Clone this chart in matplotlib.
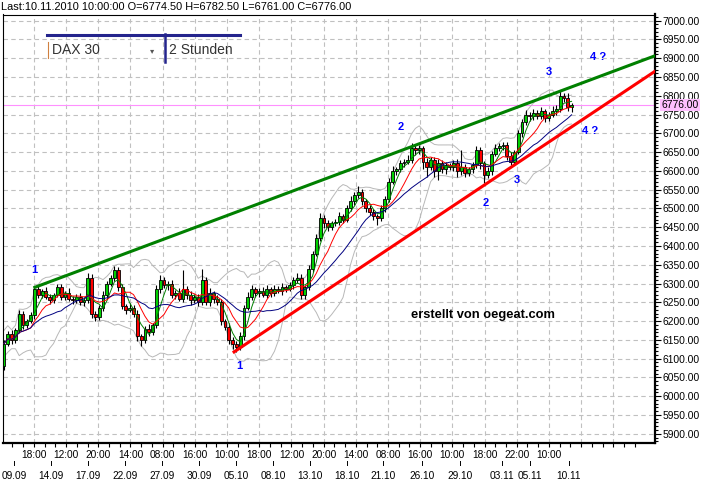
import numpy as np
import pandas as pd
import matplotlib
matplotlib.use("Agg")
import matplotlib.pyplot as plt
import matplotlib.transforms as mtransforms
from matplotlib.lines import Line2D
from matplotlib.ticker import FixedLocator, MultipleLocator, FuncFormatter

plt.rcParams['font.family'] = ['Liberation Sans', 'DejaVu Sans']

# ---- data (2h candles, DAX 30, 09.09.2010 - 10.11.2010) ----
first_open = 6080
closes = [
    6140, 6165, 6150, 6175, 6220, 6190, 6200, 6215, 6285, 6270,
    6280, 6265, 6255, 6270, 6290, 6265, 6275, 6260, 6255, 6265,
    6250, 6255, 6315, 6220, 6210, 6235, 6270, 6300, 6315, 6335,
    6290, 6240, 6230, 6235, 6220, 6160, 6150, 6180, 6170, 6190,
    6285, 6310, 6295, 6300, 6270, 6275, 6260, 6285, 6270, 6255,
    6265, 6250, 6310, 6250, 6275, 6260, 6250, 6200, 6185, 6150,
    6140, 6130, 6160, 6235, 6265, 6285, 6275, 6280, 6270, 6285,
    6275, 6285, 6280, 6290, 6285, 6295, 6310, 6315, 6270, 6290,
    6340, 6380, 6420, 6475, 6460, 6450, 6460, 6465, 6480, 6470,
    6500, 6520, 6535, 6545, 6520, 6500, 6490, 6480, 6475, 6500,
    6525, 6570, 6600, 6605, 6620, 6625, 6630, 6660, 6655, 6660,
    6625, 6610, 6630, 6600, 6620, 6605, 6615, 6610, 6620, 6600,
    6610, 6595, 6605, 6615, 6655, 6620, 6590, 6600, 6645, 6660,
    6665, 6670, 6640, 6625, 6650, 6700, 6730, 6750, 6745, 6755,
    6745, 6760, 6740, 6750, 6760, 6765, 6800, 6795, 6770, 6776,
]
wick_up = [
    10, 8, 12, 6, 10, 8, 6, 10, 8, 12,
    6, 10, 8, 6, 10, 8, 6, 12, 8, 6,
    10, 8, 12, 10, 6, 8, 10, 6, 8, 12,
    8, 10, 6, 12, 8, 10, 6, 8, 12, 6,
    10, 12, 8, 6, 10, 8, 12, 50, 8, 10,
    6, 8, 30, 8, 12, 6, 10, 8, 6, 10,
    8, 6, 10, 8, 12, 10, 6, 8, 12, 10,
    6, 10, 8, 12, 6, 10, 8, 12, 10, 6,
    10, 8, 12, 12, 8, 10, 6, 8, 10, 6,
    8, 12, 10, 15, 8, 6, 10, 8, 6, 10,
    8, 10, 12, 6, 10, 8, 12, 14, 10, 8,
    6, 10, 8, 6, 12, 8, 10, 6, 8, 12,
    45, 8, 6, 10, 12, 8, 6, 10, 8, 12,
    10, 6, 8, 10, 6, 10, 8, 12, 6, 10,
    8, 10, 6, 8, 12, 10, 15, 8, 12, 6,
]
wick_dn = [
    10, 6, 10, 8, 6, 10, 8, 6, 10, 8,
    8, 6, 10, 8, 6, 10, 8, 6, 10, 8,
    6, 10, 8, 12, 10, 6, 8, 10, 6, 8,
    10, 8, 12, 6, 10, 12, 15, 8, 10, 6,
    8, 10, 6, 12, 8, 10, 6, 8, 10, 12,
    8, 10, 6, 8, 10, 12, 6, 10, 8, 12,
    15, 12, 8, 10, 6, 8, 12, 10, 6, 8,
    10, 8, 6, 10, 8, 6, 10, 8, 12, 10,
    8, 10, 6, 8, 12, 10, 8, 6, 10, 8,
    6, 8, 10, 8, 12, 10, 8, 12, 20, 8,
    10, 8, 6, 12, 8, 10, 6, 8, 12, 10,
    20, 25, 8, 15, 25, 10, 12, 8, 10, 15,
    10, 12, 8, 10, 6, 15, 22, 8, 10, 6,
    8, 10, 12, 10, 8, 6, 10, 8, 12, 10,
    8, 6, 10, 8, 6, 10, 8, 12, 10, 12,
]

last_price = 6776.0
trend_green_x = [8.1, 171.0]
trend_green_y = [6290, 6907]
trend_red_x = [60.4, 171.0]
trend_red_y = [6118, 6866]

time_labels = ['10:00', '18:00', '12:00', '20:00', '14:00', '08:00', '16:00',
               '10:00', '18:00', '12:00', '20:00', '14:00', '08:00', '16:00',
               '10:00', '18:00', '22:00', '10:00', '', '']
date_labels = ['09.09', '14.09', '17.09', '22.09', '27.09', '30.09', '05.10',
               '08.10', '13.10', '18.10', '21.10', '26.10', '29.10', '03.11',
               '05.11', '10.11']
date_pos = [2.6, 12.3, 22.0, 31.8, 41.5, 51.2, 60.9, 70.6, 80.3, 90.0,
            99.5, 109.7, 119.7, 130.7, 138.1, 148.3]

# ---- build frame ----
df = pd.DataFrame({'close': closes, 'up': wick_up, 'dn': wick_dn})
df['open'] = [first_open] + closes[:-1]
df['high'] = df[['open', 'close']].max(axis=1) + df['up']
df['low'] = df[['open', 'close']].min(axis=1) - df['dn']
x = np.arange(len(df))

ma_fast = df['close'].rolling(4, min_periods=1).mean()
ma_mid = df['close'].rolling(8, min_periods=1).mean()
ma_slow = df['close'].rolling(16, min_periods=1).mean()
bb_mid = df['close'].rolling(12, min_periods=1).mean()
bb_std = df['close'].rolling(12, min_periods=2).std().bfill()
bb_hi = bb_mid + 2 * bb_std
bb_lo = bb_mid - 2 * bb_std

W, H = 702, 483
fig = plt.figure(figsize=(W / 100, H / 100), dpi=100)
ax = fig.add_axes([3 / W, 1 - 443 / H, 652 / W, (443 - 14.5) / H])

ax.set_xlim(-0.26, 170.9)
ax.set_ylim(5875.4, 7016.5)

# grid
grid_pos = [-0.6 + 8.45 * k for k in range(20)]
ax.xaxis.set_major_locator(FixedLocator(grid_pos))
ax.xaxis.set_minor_locator(FixedLocator([-0.6 + 8.45 * k / 3 for k in range(60)]))
ax.set_xticklabels(time_labels)
ax.yaxis.set_major_locator(MultipleLocator(50))
ax.yaxis.set_minor_locator(MultipleLocator(10))
ax.yaxis.set_major_formatter(FuncFormatter(lambda v, p: f'{v:.2f}'))
ax.grid(True, which='major', color='#c0c0c0', linestyle=(0, (4, 3)), linewidth=0.8)
ax.set_axisbelow(True)

# last price line
ax.axhline(last_price, color='#ff90ff', linewidth=0.8, zorder=1)

# bollinger and moving averages
ax.plot(x, bb_hi, color='#b8b8b8', linewidth=0.7, zorder=2)
ax.plot(x, bb_lo, color='#b8b8b8', linewidth=0.7, zorder=2)

# candles
up = df['close'] >= df['open']
ax.vlines(x, df['low'], df['high'], color='black', linewidth=0.8, zorder=3)
body = (df['close'] - df['open']).abs().clip(lower=2)
ax.bar(x, body, bottom=df[['open', 'close']].min(axis=1), width=0.75,
       color=np.where(up, '#00d000', '#ff0000'), edgecolor='black',
       linewidth=0.6, zorder=4)

ax.plot(x, ma_fast, color='#008000', linewidth=0.7, zorder=5)
ax.plot(x, ma_mid, color='#ff0000', linewidth=0.7, zorder=5)
ax.plot(x, ma_slow, color='#000080', linewidth=0.7, zorder=5)

# trend lines
ax.plot(trend_green_x, trend_green_y, color='#008000', linewidth=2.2, zorder=6)
ax.plot(trend_red_x, trend_red_y, color='#ff0000', linewidth=2.2, zorder=6)

# wave counts
for tx, ty, s in [(7.9, 6336, '1'), (61.9, 6081, '1'), (104.2, 6717, '2'),
                  (126.5, 6514, '2'), (143.0, 6863, '3'), (134.6, 6576, '3'),
                  (155.9, 6903, '4 ?'), (153.8, 6706, '4 ?')]:
    ax.text(tx, ty, s, color='#0000ff', fontsize=8, fontweight='bold',
            ha='center', va='center', zorder=7)
ax.text(125.7, 6216, 'erstellt von oegeat.com', fontsize=9.3, fontweight='bold',
        ha='center', va='center', zorder=7)

# axes styling
ax.yaxis.tick_right()
for side in ['top', 'left']:
    ax.spines[side].set_linewidth(0.8)
for side in ['right', 'bottom']:
    ax.spines[side].set_linewidth(1.6)
ax.tick_params(axis='y', which='major', direction='out', length=4, width=0.8,
               pad=1.5, labelsize=7.4, right=True, left=False)
ax.tick_params(axis='y', which='minor', direction='out', length=2, width=0.8,
               right=True, left=False)
ax.tick_params(axis='x', which='both', direction='out', length=3, width=0.8,
               pad=2, labelsize=7.3)

# price tag for last value
tr = mtransforms.blended_transform_factory(ax.transAxes, ax.transData)
ax.text(1.0095, last_price, f'{last_price:.2f}', transform=tr, fontsize=7.4,
        ha='left', va='center', zorder=8,
        bbox=dict(boxstyle='square,pad=0.12', facecolor='#ffc0ff', edgecolor='none'))

# date row
trd = mtransforms.blended_transform_factory(ax.transData, ax.transAxes)
for dp, dl in zip(date_pos, date_labels):
    ax.plot([dp, dp], [-0.042, -0.052], color='black', linewidth=0.7,
            transform=trd, clip_on=False)
    ax.text(dp, -0.076, dl, transform=trd, fontsize=7.3, ha='center', va='center')

# header and symbol box
fig.text(1 / W, 1 - 6.5 / H, 'Last:10.11.2010 10:00:00 O=6774.50 H=6782.50 L=6761.00 C=6776.00',
         fontsize=7.9, ha='left', va='center')
fig.add_artist(Line2D([47 / W, 240 / W], [1 - 34.5 / H] * 2, color='#24248c',
                      linewidth=2.2, transform=fig.transFigure))
fig.add_artist(Line2D([164.5 / W] * 2, [1 - 34 / H, 1 - 62 / H], color='#24248c',
                      linewidth=1.8, transform=fig.transFigure))
fig.add_artist(Line2D([47.8 / W] * 2, [1 - 42 / H, 1 - 58 / H], color='#d08040',
                      linewidth=0.8, transform=fig.transFigure))
fig.text(52.5 / W, 1 - 50.5 / H, 'DAX 30', fontsize=10, color='#333333',
         ha='left', va='center')
fig.text(152.5 / W, 1 - 50.5 / H, '\u25be', fontsize=6, color='#555555',
         ha='center', va='center', family=['DejaVu Sans'])
fig.text(169 / W, 1 - 50.5 / H, '2 Stunden', fontsize=10, color='#333333',
         ha='left', va='center')

fig.savefig('out.png', dpi=100)
